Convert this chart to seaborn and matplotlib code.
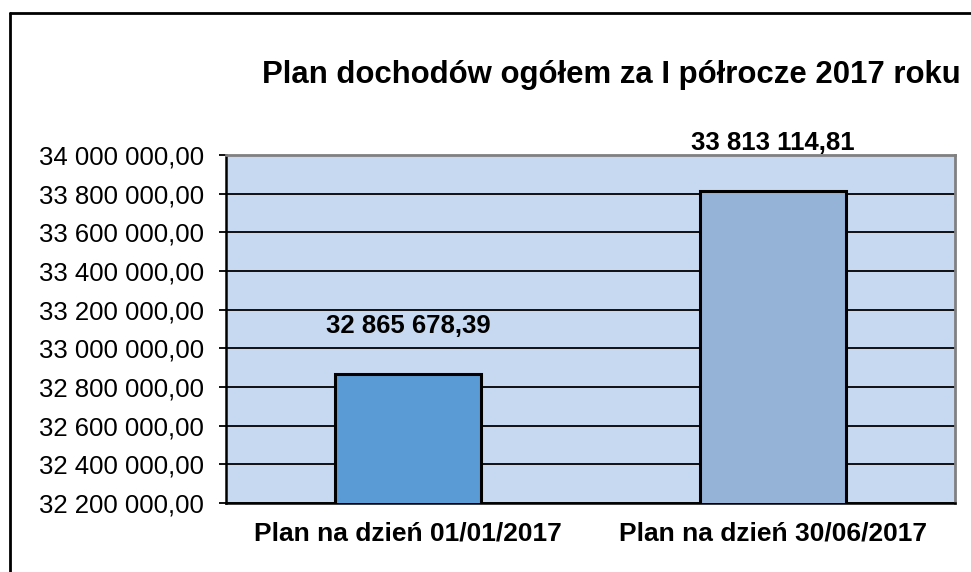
import numpy as np
import matplotlib
matplotlib.use('Agg')
import matplotlib.pyplot as plt
import seaborn as sb
from matplotlib.lines import Line2D

#%% Dane

categories = ['Plan na dzień 01/01/2017', 'Plan na dzień 30/06/2017']
values = [32865678.39, 33813114.81]
bar_colors = ['#5b9bd5', '#95b3d7']
title = 'Plan dochodów ogółem za I półrocze 2017 roku'
y_ticks = np.arange(32200000, 34000001, 200000)

def pl_fmt(v):
    # 34 000 000,00 - spacja jako separator tysięcy, przecinek dziesiętny
    return f'{v:,.2f}'.replace(',', ' ').replace('.', ',')

#%% Wykres

sb.set_style('white')
plt.rcParams['font.family'] = ['Liberation Sans', 'DejaVu Sans']
plt.rcParams['text.color'] = 'black'
plt.rcParams['xtick.color'] = 'black'
plt.rcParams['ytick.color'] = 'black'

W, H = 971, 572
fig = plt.figure(figsize=(W/100, H/100), dpi=100)
ax = fig.add_axes([226/W, 1-503/H, (955-226)/W, (503-155)/H])
ax.set_facecolor('#c6d9f1')

sb.barplot(x=categories, y=values, hue=categories, palette=bar_colors, width=0.4, saturation=1,
           edgecolor='black', linewidth=2.2, legend=False, ax=ax, zorder=3)

ax.set_ylim(y_ticks[0], y_ticks[-1])
ax.set_xlim(-0.5, 1.5)
ax.set_yticks(y_ticks)
ax.set_yticklabels([pl_fmt(v) for v in y_ticks], fontsize=18.5)
ax.yaxis.grid(True, color='black', linewidth=1.3, zorder=0)
ax.set_axisbelow(True)

ax.set_xticks([0, 1])
ax.set_xticklabels(categories, fontsize=19, fontweight='bold')
ax.set_xticks([-0.5, 0.5, 1.5], minor=True)
ax.tick_params(axis='x', which='major', length=0, pad=13)
ax.tick_params(axis='x', which='minor', length=6, width=1.3, color='black', direction='out')
ax.tick_params(axis='y', length=5, width=1.3, color='black', direction='out', pad=11, left=True)
ax.set_xlabel('')
ax.set_ylabel('')

for s in ['left', 'bottom']:
    ax.spines[s].set_color('black')
    ax.spines[s].set_linewidth(1.8)
for s in ['top', 'right']:
    ax.spines[s].set_visible(True)
    ax.spines[s].set_color('#808080')
    ax.spines[s].set_linewidth(2)

for i, v in enumerate(values):
    ax.annotate(pl_fmt(v), (i, v), xytext=(0, 35), textcoords='offset points',
                ha='center', va='center', fontsize=18.5, fontweight='bold', annotation_clip=False)

fig.text(262/W, 1-75/H, title, fontsize=22.4, fontweight='bold', ha='left', va='center')

# ramka wykresu (lewa i górna krawędź)
fig.add_artist(Line2D([10/W, 1.0], [1-13/H, 1-13/H], color='black', linewidth=2, transform=fig.transFigure))
fig.add_artist(Line2D([10/W, 10/W], [1-13/H, 0], color='black', linewidth=2, transform=fig.transFigure))

fig.savefig('out.png', dpi=100)
